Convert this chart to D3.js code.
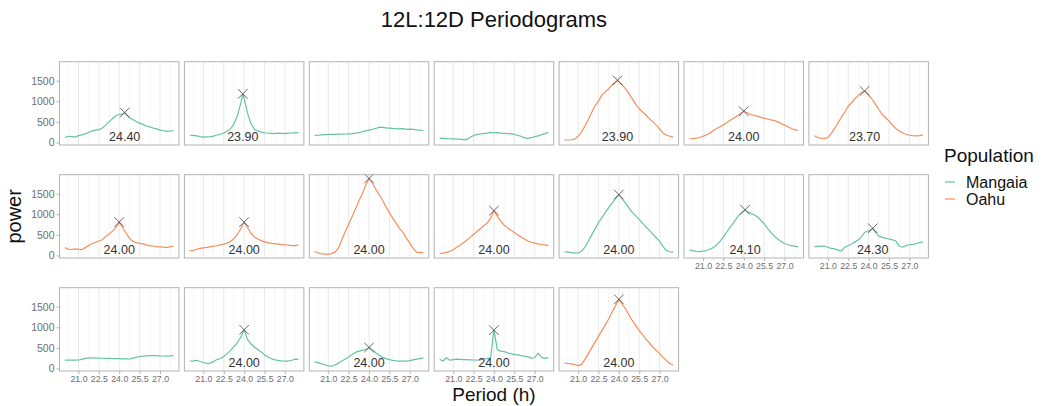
<!DOCTYPE html>
<html>
<head>
<meta charset="utf-8">
<script src="https://cdn.jsdelivr.net/npm/d3@7"></script>
<style>
  body { margin: 0; background: #fff; }
  text { font-family: "Liberation Sans", Arial, sans-serif; }
</style>
</head>
<body>
<div id="chart"></div>
<script>
// period grid (h) shared by every panel
var periods = [20, 20.25, 20.5, 20.75, 21, 21.25, 21.5, 21.75, 22, 22.25, 22.5, 22.75,
  23, 23.25, 23.5, 23.75, 24, 24.25, 24.5, 24.75, 25, 25.25, 25.5, 25.75,
  26, 26.25, 26.5, 26.75, 27, 27.25, 27.5, 27.75, 28];

var xTicks = [21.0, 22.5, 24.0, 25.5, 27.0];
var xMinor = [20.25, 21.75, 23.25, 24.75, 26.25, 27.75];
var yTicks = [0, 500, 1000, 1500];

var populations = ["Mangaia", "Oahu"];
var population = ["Mangaia", "Mangaia", "Mangaia", "Mangaia", "Oahu", "Oahu", "Oahu",
  "Oahu", "Oahu", "Oahu", "Oahu", "Mangaia", "Mangaia", "Mangaia",
  "Mangaia", "Mangaia", "Mangaia", "Mangaia", "Oahu"];

var peakPeriod = [24.4, 23.9, null, null, 23.9, 24.0, 23.7,
  24.0, 24.0, 24.0, 24.0, 24.0, 24.1, 24.3,
  null, 24.0, 24.0, 24.0, 24.0];
var peakPower = [727, 1180, null, null, 1510, 760, 1250,
  810, 810, 1870, 1090, 1480, 1110, 660,
  null, 940, 510, 930, 1680];

// power per panel
var power01 = [115,150,140,130,165,185,210,240,280,300,310,350,420,500,580,650,680,690,680,600,560,510,470,440,400,380,350,330,300,290,270,275,290];
var power02 = [175,170,160,140,130,135,140,155,180,200,230,270,330,450,650,950,1080,710,460,320,280,250,235,225,220,215,225,220,215,225,230,235,240];
var power03 = [170,175,185,190,195,195,195,200,200,205,210,215,225,240,260,280,300,320,340,370,365,355,350,340,335,330,335,320,325,320,305,300,285];
var power04 = [105,100,95,90,85,80,80,70,70,125,170,195,205,215,225,245,235,240,225,220,215,210,200,170,150,110,100,115,140,160,190,215,245];
var power05 = [65,60,65,80,150,250,400,560,730,900,1000,1150,1230,1300,1400,1460,1470,1400,1300,1180,1060,920,820,740,660,580,500,420,330,230,180,150,130];
var power06 = [90,95,105,120,150,185,225,290,340,380,430,480,540,590,640,690,760,720,680,660,640,610,590,570,550,530,500,460,420,380,340,310,290];
var power07 = [165,120,105,100,120,220,340,480,620,740,880,970,1060,1150,1220,1240,1150,1050,930,800,680,600,520,420,340,280,230,200,175,165,160,165,185];
var power08 = [190,150,145,160,150,140,190,240,290,320,350,380,460,520,590,680,810,680,540,420,340,310,295,280,250,240,230,215,210,200,190,215,230];
var power09 = [110,125,150,170,185,195,210,225,235,255,275,300,340,410,510,650,810,680,540,450,400,360,330,310,295,285,275,265,255,250,240,240,255];
var power10 = [100,60,40,30,30,45,80,180,380,580,760,940,1130,1320,1500,1700,1870,1760,1600,1480,1340,1180,1040,900,780,650,560,420,300,170,80,70,75];
var power11 = [50,55,75,100,140,200,250,310,370,440,510,580,650,720,790,900,1090,950,830,740,670,610,560,500,450,400,350,320,300,280,265,255,245];
var power12 = [90,80,70,55,60,100,200,340,500,640,800,920,1040,1160,1270,1380,1480,1370,1270,1150,1040,960,870,780,690,610,520,430,340,220,120,90,75];
var power13 = [130,115,100,95,105,120,150,190,250,340,450,570,690,790,920,1010,1080,1060,1030,990,940,860,770,660,560,470,400,340,290,260,240,225,210];
var power14 = [215,220,225,230,200,170,160,130,110,200,240,280,330,380,470,570,600,640,560,470,440,420,400,380,350,230,200,240,260,270,290,310,330];
var power15 = [200,200,200,200,205,220,245,255,255,250,250,248,245,245,242,240,238,235,232,230,250,270,290,300,305,310,312,310,305,302,300,305,315];
var power16 = [175,185,200,170,145,125,130,165,220,235,290,360,440,530,630,760,940,700,600,520,460,400,330,280,240,210,195,185,180,180,200,225,220];
var power17 = [160,140,110,90,60,55,90,130,180,230,280,340,390,420,440,460,510,450,380,320,270,240,215,195,185,180,178,176,190,210,225,240,255];
var power18 = [220,180,260,200,215,225,220,215,215,210,205,200,215,230,240,260,930,450,420,410,380,360,340,330,310,300,280,250,260,370,270,245,265];
var power19 = [130,120,110,95,70,100,220,360,500,640,780,920,1060,1200,1370,1520,1680,1560,1440,1300,1160,1040,920,820,710,620,520,440,360,270,190,120,85];

var powers = [power01, power02, power03, power04, power05, power06, power07,
  power08, power09, power10, power11, power12, power13, power14,
  power15, power16, power17, power18, power19];

var svgWidth = 1042;
var svgHeight = 406;

// facet grid geometry
var nCol = 7;
var left0 = 59.5, top0 = 61.7;
var panelW = 119.5, panelH = 83.3;
var colStep = 124.9, rowStep = 113;

var color = d3.scaleOrdinal().domain(populations).range(["#66c2a5", "#f58f5c"]);

function expand(ext) {
  var pad = (ext[1] - ext[0]) * 0.05;
  return [ext[0] - pad, ext[1] + pad];
}

var x = d3.scaleLinear()
  .domain(expand(d3.extent(periods)))
  .range([0, panelW]);

var allPower = d3.merge(powers).concat(peakPower.filter(function(d) { return d != null; }));
var y = d3.scaleLinear()
  .domain(expand(d3.extent(allPower)))
  .range([panelH, 0]);

var svg = d3.select("#chart")
  .append("svg")
    .attr("width", svgWidth)
    .attr("height", svgHeight);

svg.append("rect").attr("width", svgWidth).attr("height", svgHeight).attr("fill", "#fff");

var line = d3.line()
  .x(function(d) { return x(d[0]); })
  .y(function(d) { return y(d[1]); });

powers.forEach(function(vals, i) {
  var col = i % nCol;
  var row = Math.floor(i / nCol);
  var g = svg.append("g")
    .attr("transform", `translate(${left0 + col * colStep}, ${top0 + row * rowStep})`);

  g.append("rect")
    .attr("width", panelW).attr("height", panelH)
    .attr("fill", "#fff");

  // minor and major vertical grid
  g.selectAll(".minor").data(xMinor).enter().append("line")
    .attr("x1", d => x(d)).attr("x2", d => x(d))
    .attr("y1", 0).attr("y2", panelH)
    .attr("stroke", "#f0f0f0").attr("stroke-width", 0.6);
  g.selectAll(".major").data(xTicks).enter().append("line")
    .attr("x1", d => x(d)).attr("x2", d => x(d))
    .attr("y1", 0).attr("y2", panelH)
    .attr("stroke", "#e3e3e3").attr("stroke-width", 0.8);

  var pts = periods.map(function(p, k) { return [p, vals[k]]; });
  if (peakPeriod[i] != null && periods.indexOf(peakPeriod[i]) < 0) {
    pts.push([peakPeriod[i], peakPower[i]]);
    pts.sort(function(a, b) { return a[0] - b[0]; });
  }

  g.append("path")
    .datum(pts)
    .attr("d", line)
    .attr("fill", "none")
    .attr("stroke", color(population[i]))
    .attr("stroke-width", 1.2)
    .attr("stroke-linejoin", "round");

  if (peakPeriod[i] != null) {
    g.append("text")
      .attr("x", x(peakPeriod[i]))
      .attr("y", y(25))
      .attr("text-anchor", "middle")
      .attr("font-size", "12.5px")
      .attr("fill", "#333")
      .text(peakPeriod[i].toFixed(2));

    var px = x(peakPeriod[i]), py = y(peakPower[i]), s = 4.8;
    g.append("path")
      .attr("d", `M${px - s},${py - s}L${px + s},${py + s}M${px - s},${py + s}L${px + s},${py - s}`)
      .attr("stroke", "#4d4d4d")
      .attr("stroke-opacity", 0.85)
      .attr("stroke-width", 1);
  }

  g.append("rect")
    .attr("width", panelW).attr("height", panelH)
    .attr("fill", "none")
    .attr("stroke", "#b3b3b3")
    .attr("stroke-width", 1);

  if (col === 0) {
    var ya = g.append("g")
      .call(d3.axisLeft(y).tickValues(yTicks).tickFormat(d3.format("d")).tickSize(3).tickPadding(2));
    ya.select(".domain").remove();
    ya.selectAll(".tick line").attr("stroke", "#b3b3b3");
    ya.selectAll(".tick text")
      .attr("fill", "#6e6e6e")
      .attr("font-size", "10.5px")
      .attr("font-family", "'Liberation Sans', Arial, sans-serif");
  }

  if (i + nCol >= powers.length) {
    var xa = g.append("g")
      .attr("transform", `translate(0, ${panelH})`)
      .call(d3.axisBottom(x).tickValues(xTicks).tickFormat(d3.format(".1f")).tickSize(3).tickPadding(2));
    xa.select(".domain").remove();
    xa.selectAll(".tick line").attr("stroke", "#b3b3b3");
    xa.selectAll(".tick text")
      .attr("fill", "#6e6e6e")
      .attr("font-size", "8.8px")
      .attr("font-family", "'Liberation Sans', Arial, sans-serif");
  }
});

// title and axis titles
svg.append("text")
  .attr("x", left0 + (nCol - 1) * colStep / 2 + panelW / 2)
  .attr("y", 27)
  .attr("text-anchor", "middle")
  .attr("font-size", "22px")
  .attr("fill", "#111")
  .text("12L:12D Periodograms");

svg.append("text")
  .attr("x", left0 + (nCol - 1) * colStep / 2 + panelW / 2)
  .attr("y", 401)
  .attr("text-anchor", "middle")
  .attr("font-size", "19px")
  .attr("fill", "#111")
  .text("Period (h)");

svg.append("text")
  .attr("transform", `translate(21, ${top0 + rowStep + panelH / 2}) rotate(-90)`)
  .attr("text-anchor", "middle")
  .attr("font-size", "20px")
  .attr("fill", "#111")
  .text("power");

// legend
var legend = svg.append("g").attr("transform", "translate(944, 162)");
legend.append("text")
  .attr("font-size", "19px")
  .attr("fill", "#111")
  .text("Population");

populations.forEach(function(p, k) {
  var ly = 20 + k * 17;
  legend.append("line")
    .attr("x1", 1).attr("x2", 11)
    .attr("y1", ly).attr("y2", ly)
    .attr("stroke", color(p)).attr("stroke-width", 1.2);
  legend.append("text")
    .attr("x", 22).attr("y", ly + 5.5)
    .attr("font-size", "16px")
    .attr("fill", "#111")
    .text(p);
});
</script>
</body>
</html>
